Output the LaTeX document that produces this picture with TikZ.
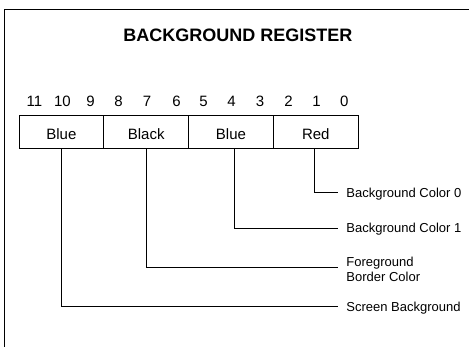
\documentclass[tikz,border=0pt]{standalone}
\usepackage{fontspec}
\setmainfont{Liberation Sans}
\begin{document}
\begin{tikzpicture}[x=1pt,y=-1pt,
  line width=0.9pt,
  cell/.style={draw, minimum width=84.8pt, minimum height=32.5pt, inner sep=0pt,
    font=\fontsize{15}{17}\selectfont, text height=14.8pt, text depth=0pt},
  bit/.style={inner sep=0pt, font=\fontsize{15}{17}\selectfont},
  lab/.style={anchor=west, inner xsep=8pt, inner ysep=0pt, text height=9.3pt, text depth=0pt,
    font=\fontsize{13}{15}\selectfont},
  lab2/.style={anchor=north west, inner xsep=8pt, inner ysep=0pt, align=left,
    font=\fontsize{13}{15}\selectfont},
  conn/.style={line width=0.9pt}
]
\useasboundingbox (0,0) rectangle (469,346);
% frame (cropped)
\draw[line width=1pt] (470,9) -- (4.5,9) -- (4.5,347);
% title
\node[font=\fontsize{18}{20}\selectfont\bfseries, inner sep=0pt] (title) at (238,35.8) {BACKGROUND REGISTER};
% register cells
\node[cell] (c1) at (61.4,132) {Blue};
\node[cell] (c2) at (146.2,132) {Black};
\node[cell] (c3) at (231.0,132) {Blue};
\node[cell] (c4) at (315.8,132) {Red};
% bit numbers
\foreach \n/\x in {11/34.5,10/62.5,9/90.5,8/118.5,7/147,6/176.5,5/203.5,4/231.5,3/260,2/288.5,1/316.5,0/344.3}{
  \node[bit] (b\n) at (\x,101) {\n};
}
% labels
\node[lab] (l0) at (338,192.7) {Background Color 0};
\node[lab] (l1) at (338,228.3) {Background Color 1};
\node[lab2] (l2) at (338,256.5) {Foreground\\Border Color};
\node[lab] (l3) at (338,306.7) {Screen Background};
% connectors
\draw[conn] ([xshift=-1pt]c4.south) |- (l0.west);
\draw[conn] ([xshift=3pt]c3.south) |- (l1.west);
\draw[conn] (c2.south) |- ([yshift=-10.8pt]l2.north west);
\draw[conn] (c1.south) |- (l3.west);
\end{tikzpicture}
\end{document}
